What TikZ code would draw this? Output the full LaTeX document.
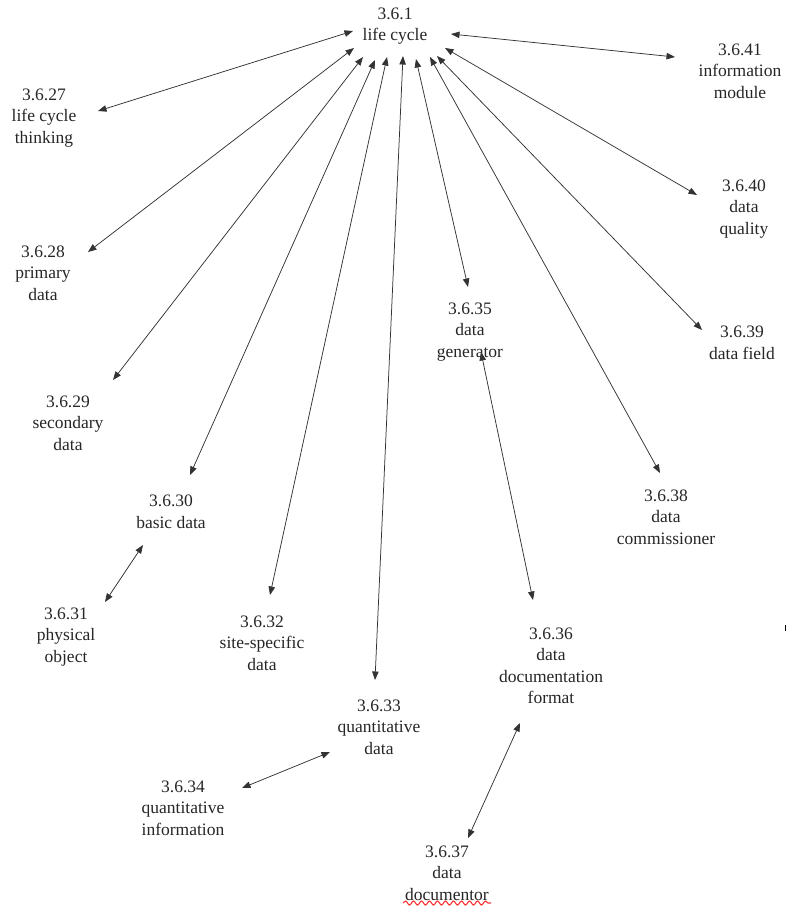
\documentclass[tikz,border=0pt]{standalone}
\usepackage{fontspec}
\setmainfont{Liberation Serif}
\usetikzlibrary{arrows.meta,calc,decorations.pathmorphing}
\begin{document}
\begin{tikzpicture}[x=1pt,y=-1pt,
  term/.style={align=center,inner sep=0pt,font=\fontsize{17.5}{21.5}\selectfont,text=black!85},
  link/.style={{Triangle[length=8.5pt,width=6.5pt]}-{Triangle[length=8.5pt,width=6.5pt]},draw=black!80,line width=0.75pt}]
\useasboundingbox (0,0) rectangle (787,922);
% nodes
\node[term] (hub) at (395,26) {3.6.1\\life cycle};
\node[term] (n27) at (44,118) {3.6.27\\life cycle\\thinking};
\node[term] (n41) at (740,71) {3.6.41\\information\\module};
\node[term] (n40) at (744,209) {3.6.40\\data\\quality};
\node[term] (n28) at (43,273) {3.6.28\\primary\\data};
\node[term] (n39) at (742,343) {3.6.39\\data field};
\node[term] (n35) at (470,332) {3.6.35\\data\\generator};
\node[term] (n29) at (68,423) {3.6.29\\secondary\\data};
\node[term] (n30) at (171,512) {3.6.30\\basic data};
\node[term] (n38) at (666,517) {3.6.38\\data\\commissioner};
\node[term] (n31) at (66,637) {3.6.31\\physical\\object};
\node[term] (n32) at (262,643) {3.6.32\\site-specific\\data};
\node[term] (n36) at (551,666) {3.6.36\\data\\documentation\\format};
\node[term] (n33) at (379,727) {3.6.33\\quantitative\\data};
\node[term] (n34) at (183,808) {3.6.34\\quantitative\\information};
\node[term] (n37) at (447,873) {3.6.37\\data\\documentor};
% connectors from the hub
\draw[link] ($(hub)+(-42,5)$) -- ($(n27)+(54,-7)$);
\draw[link] ($(hub)+(-41,22)$) -- ($(n28)+(45,-21)$);
\draw[link] ($(hub)+(-32,31)$) -- ($(n29)+(45,-43)$);
\draw[link] ($(hub)+(-20,34)$) -- ($(n30)+(19,-37)$);
\draw[link] ($(hub)+(-8,31)$) -- ($(n32)+(8,-48)$);
\draw[link] ($(hub)+(8,30)$) -- ($(n33)+(-4,-47)$);
\draw[link] ($(hub)+(21,33)$) -- ($(n35)+(-2,-45)$);
\draw[link] ($(hub)+(35,31)$) -- ($(n38)+(-6,-44)$);
\draw[link] ($(hub)+(42,30)$) -- ($(n39)+(-40,-13)$);
\draw[link] ($(hub)+(50,22)$) -- ($(n40)+(-47,-14)$);
\draw[link] ($(hub)+(56,8)$) -- ($(n41)+(-65,-14)$);
% other connectors
\draw[link] ($(n30)+(-28,33)$) -- ($(n31)+(39,-35)$);
\draw[link] ($(n35)+(11,20)$) -- ($(n36)+(-18,-66)$);
\draw[link] ($(n33)+(-49,25)$) -- ($(n34)+(59,-20)$);
\draw[link] ($(n36)+(-31,57)$) -- ($(n37)+(21,-35)$);
% spell-check underline and stray mark
\draw[red!80,line width=1.1pt,decorate,decoration={snake,amplitude=2pt,segment length=8pt}] ($(n37)+(-44,30)$) -- ($(n37)+(44,30)$);
\draw[black,line width=1.5pt] (785.5,625) -- (785.5,631);
\end{tikzpicture}
\end{document}
